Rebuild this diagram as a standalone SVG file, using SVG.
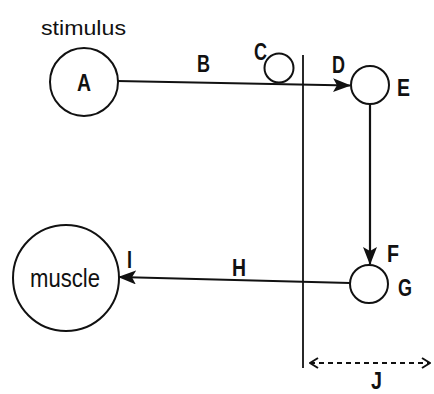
<svg xmlns="http://www.w3.org/2000/svg" width="434" height="394" viewBox="0 0 434 394">
<style>
.n{fill:none;stroke:#111;stroke-width:2}
.l{font-family:"Liberation Sans",Arial,sans-serif;font-weight:bold;font-size:24px;fill:#111}
.t{font-family:"Liberation Sans",Arial,sans-serif;fill:#111}
.c{stroke:#111;stroke-width:2.2;fill:none}
</style>
<defs>
<marker id="ah" viewBox="0 0 18 14" refX="17" refY="7" markerWidth="18" markerHeight="14" markerUnits="userSpaceOnUse" orient="auto">
<path d="M0,0 L18,7 L0,14 L4,7 Z" fill="#111"/>
</marker>
<marker id="oh" viewBox="0 0 10 12" refX="9" refY="6" markerWidth="10" markerHeight="12" markerUnits="userSpaceOnUse" orient="auto-start-reverse">
<path d="M1,1 L9,6 L1,11" fill="none" stroke="#111" stroke-width="2"/>
</marker>
</defs>
<rect width="434" height="394" fill="#fff"/>
<text class="t" x="41" y="35" font-size="21" textLength="85" lengthAdjust="spacingAndGlyphs">stimulus</text>
<g id="A"><circle class="n" cx="84" cy="82" r="34"/><text class="l" x="77" y="91" textLength="14" lengthAdjust="spacingAndGlyphs">A</text></g>
<g id="C"><circle class="n" cx="279" cy="68" r="14.5"/></g>
<g id="E"><circle class="n" cx="370" cy="85" r="19"/></g>
<g id="G"><circle class="n" cx="369" cy="284" r="19"/></g>
<g id="muscle"><circle class="n" cx="66" cy="278" r="53"/><text class="t" x="30" y="287" font-size="25" textLength="70" lengthAdjust="spacingAndGlyphs">muscle</text></g>
<g id="connectors">
<line class="c" x1="117" y1="81" x2="350" y2="85.5" marker-end="url(#ah)"/>
<line class="c" x1="370" y1="104" x2="370" y2="264" marker-end="url(#ah)"/>
<line class="c" x1="350" y1="283" x2="119" y2="277" marker-end="url(#ah)"/>
<line x1="303" y1="55" x2="303" y2="368" stroke="#111" stroke-width="1.8"/>
<line x1="310" y1="363" x2="430" y2="363" stroke="#111" stroke-width="1.8" stroke-dasharray="5,4" marker-start="url(#oh)" marker-end="url(#oh)"/>
</g>
<g id="labels">
<text class="l" x="197" y="72" textLength="13" lengthAdjust="spacingAndGlyphs">B</text>
<text class="l" x="254" y="60" textLength="13" lengthAdjust="spacingAndGlyphs">C</text>
<text class="l" x="332" y="73" textLength="13" lengthAdjust="spacingAndGlyphs">D</text>
<text class="l" x="397" y="96" textLength="13" lengthAdjust="spacingAndGlyphs">E</text>
<text class="l" x="387" y="262" textLength="12" lengthAdjust="spacingAndGlyphs">F</text>
<text class="l" x="398" y="296" textLength="14" lengthAdjust="spacingAndGlyphs">G</text>
<text class="l" x="232" y="276" textLength="14" lengthAdjust="spacingAndGlyphs">H</text>
<text class="l" x="127" y="268" textLength="5" lengthAdjust="spacingAndGlyphs">I</text>
<text class="l" x="371" y="389" textLength="11" lengthAdjust="spacingAndGlyphs">J</text>
</g>
</svg>
